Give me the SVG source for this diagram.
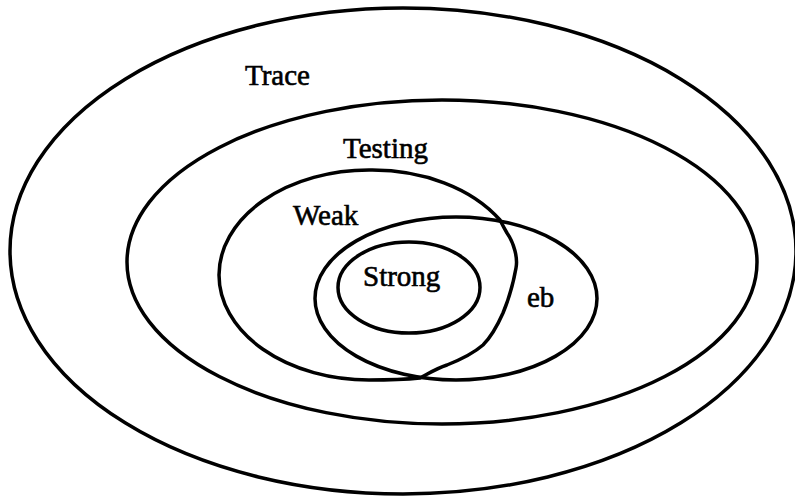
<svg xmlns="http://www.w3.org/2000/svg" width="795" height="498" viewBox="0 0 795 498">
<style>
.set{fill:none;stroke:#000;stroke-width:3.5}
.lbl{font-family:"Liberation Serif","Times New Roman",serif;font-size:29px;fill:#000;stroke:#000;stroke-width:0.6}
</style>
<rect width="795" height="498" fill="#fff"/>
<g id="trace">
<ellipse class="set" cx="403" cy="251" rx="393" ry="243"/>
<text class="lbl" x="245" y="85">Trace</text>
</g>
<g id="testing">
<ellipse class="set" cx="442" cy="262" rx="315" ry="162"/>
<text class="lbl" x="343" y="158">Testing</text>
</g>
<g id="weak">
<path class="set" d="M 500,220 A 150 105 0 0 0 369,170 A 150 105 0 0 0 219,275 A 150 105 0 0 0 369,380 C 395,380 410,379 420,378 C 428,374 435,369 447,365 C 462,359 475,352 483,345 C 493,335 499,322 503,313 C 508,301 513,285 516,268 C 518,258 514,243 507,233 C 504,228 502,224 500,220 Z"/>
<text class="lbl" x="293" y="225">Weak</text>
</g>
<g id="eb">
<ellipse class="set" cx="456" cy="298.5" rx="141" ry="81.5"/>
<text class="lbl" x="527" y="307">eb</text>
</g>
<g id="strong">
<ellipse class="set" cx="409" cy="287.5" rx="71" ry="45.5"/>
<text class="lbl" x="363" y="286">Strong</text>
</g>
<g id="connectors"/>
</svg>
